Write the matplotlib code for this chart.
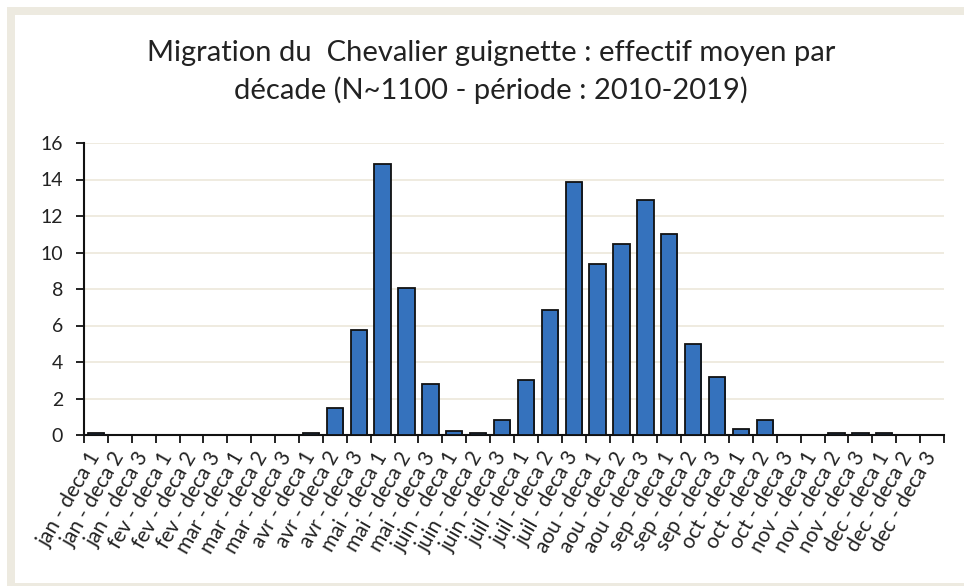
import matplotlib
matplotlib.use("Agg")
import matplotlib.pyplot as plt
import numpy as np
from matplotlib.patches import Rectangle

months = ["jan", "fev", "mar", "avr", "mai", "juin", "juil", "aou", "sep", "oct", "nov", "dec"]
categories = [f"{m} - deca {d}" for m in months for d in (1, 2, 3)]
values = [0.1, 0, 0,
          0, 0, 0,
          0, 0, 0,
          0.1, 1.5, 5.75,
          14.85, 8.05, 2.8,
          0.2, 0.1, 0.8,
          3.0, 6.85, 13.85,
          9.35, 10.45, 12.85,
          11.0, 5.0, 3.2,
          0.33, 0.8, 0,
          0, 0.1, 0.1,
          0.1, 0, 0]
yticks = [0, 2, 4, 6, 8, 10, 12, 14, 16]
title = "Migration du  Chevalier guignette : effectif moyen par\ndécade (N~1100 - période : 2010-2019)"

W, H = 964, 586
fig = plt.figure(figsize=(W / 100, H / 100), dpi=100, facecolor="white")
plt.rcParams['font.family'] = ['Lato', 'DejaVu Sans']

# frame
fig.patches.append(Rectangle((7 / W, 0), 1, 1 - 7 / H, transform=fig.transFigure,
                             facecolor="#edeae0", edgecolor="none", zorder=-10))
fig.patches.append(Rectangle((15 / W, 3 / H), 1, 1 - 18 / H, transform=fig.transFigure,
                             facecolor="white", edgecolor="none", zorder=-9))

ax = fig.add_axes([84 / W, (H - 435) / H, (944 - 84) / W, (435 - 143) / H])
ax.set_facecolor("none")
x = np.arange(len(categories))
bars = ax.bar(x, values, width=0.68, color="#3572bd", edgecolor="#111111", linewidth=1.3, zorder=3)

# gradient fill
grad = np.linspace(0, 1, 256).reshape(-1, 1)
cmap = matplotlib.colors.LinearSegmentedColormap.from_list("g", ["#2d5c9a", "#3d7fd0"])
for b in bars:
    if b.get_height() <= 0:
        continue
    x0, y0 = b.get_x(), b.get_y()
    im = ax.imshow(grad, cmap=cmap, aspect="auto", origin="lower",
                   extent=(x0, x0 + b.get_width(), y0, y0 + b.get_height()), zorder=2.9)
    im.set_clip_path(b)

ax.set_xlim(-0.5, len(categories) - 0.5)
ax.set_ylim(0, 16)
ax.set_yticks(yticks)
ax.set_yticklabels([str(t) for t in yticks], fontsize=14, color="#222222")
ax.yaxis.grid(True, color="#ece8da", linewidth=1.2, zorder=0)
ax.set_axisbelow(True)

ax.set_xticks(x)
ax.set_xticklabels(categories, rotation=60, ha="right", va="center", rotation_mode="anchor",
                   fontsize=15, color="#222222")
ax.tick_params(axis="x", which="major", length=0, pad=13)
ax.set_xticks(np.arange(-0.5, len(categories), 1), minor=True)
ax.tick_params(axis="x", which="minor", length=6, width=1.3, color="#111111", direction="out")
ax.tick_params(axis="y", length=6, width=1.3, color="#111111", direction="out", pad=9)

for s in ["top", "right"]:
    ax.spines[s].set_visible(False)
for s in ["left", "bottom"]:
    ax.spines[s].set_color("#111111")
    ax.spines[s].set_linewidth(1.5)

fig.text(491 / W, (H - 72) / H, title, ha="center", va="center", fontsize=21,
         color="#222222", linespacing=1.45)

fig.savefig("out.png", dpi=100, facecolor="white")
